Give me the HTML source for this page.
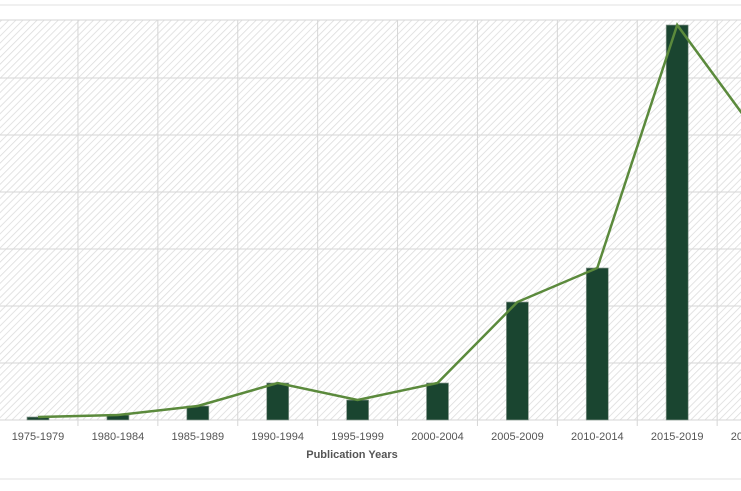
<!DOCTYPE html>
<html><head><meta charset="utf-8"><style>
body{margin:0;background:#fff;width:741px;height:486px;overflow:hidden;font-family:"Liberation Sans",sans-serif}
</style></head><body>
<svg id="c" width="741" height="486" xmlns="http://www.w3.org/2000/svg">
<defs>
<pattern id="hatch" width="5" height="5" patternUnits="userSpaceOnUse" patternTransform="rotate(45)">
<rect width="5" height="5" fill="#fff"/><line x1="0" y1="0" x2="0" y2="5" stroke="#dcdcdc" stroke-width="1.6"/>
</pattern>
</defs>
<line x1="0" y1="5" x2="741" y2="5" stroke="#e0e0e0"/>
<line x1="0" y1="479" x2="741" y2="479" stroke="#e0e0e0"/>
<rect x="0" y="20" width="741" height="400" fill="url(#hatch)"/>
<g id="grid"></g><g id="bars"></g><g id="line"></g><g id="labels"></g>
<text x="352" y="458" text-anchor="middle" font-size="11" font-weight="bold" fill="#555">Publication Years</text>
</svg>
<script>
const categories=["1975-1979","1980-1984","1985-1989","1990-1994","1995-1999","2000-2004","2005-2009","2010-2014","2015-2019","2020-2024"];
const values=[3,5,14,37,20,37,118,152,395,286];
const gridTicks=[0,57,114,171,228,285,342,400];
const NS="http://www.w3.org/2000/svg";
const top0=20,base=420,vmax=400,step=79.9,x0=38;
const y=v=>base-v/vmax*(base-top0);
const x=i=>x0+step*i;
function mk(t,a,p){const e=document.createElementNS(NS,t);for(const k in a)e.setAttribute(k,a[k]);p.appendChild(e);return e;}
const g=document.getElementById('grid');
gridTicks.forEach(v=>{const l=mk('line',{x1:0,x2:741,y1:y(v),y2:y(v),stroke:'#d6d6d6'},g);

});
for(let i=0;i<=categories.length;i++){const xx=x(i)-step/2;const l=mk('line',{x1:xx,x2:xx,y1:top0,y2:base+6,stroke:'#d6d6d6'},g);

}
const b=document.getElementById('bars'),lb=document.getElementById('labels');
categories.forEach((c,i)=>{const r=mk('rect',{x:x(i)-11,y:y(values[i]),width:22,height:base-y(values[i]),fill:'#1a4530',stroke:'#8a9a90','stroke-width':0.7},b);


const t=mk('text',{x:x(i),y:440,'text-anchor':'middle','font-size':11,fill:'#555'},lb);t.textContent=c;

});
const p=mk('polyline',{points:values.map((v,i)=>x(i)+','+y(v)).join(' '),fill:'none',stroke:'#5b8a3c','stroke-width':2.5},document.getElementById('line'));


</script>
</body></html>
